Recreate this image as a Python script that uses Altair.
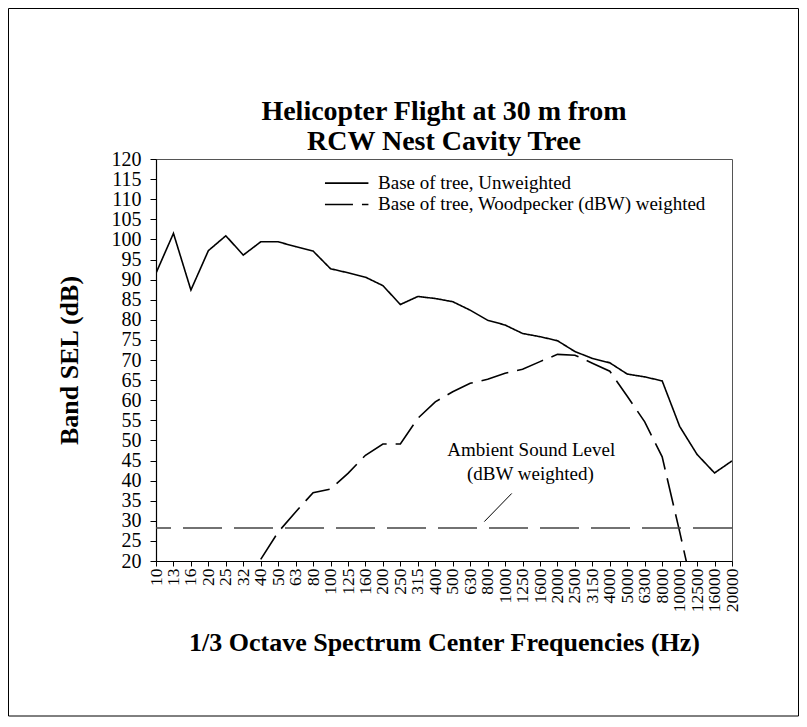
import json
import altair as alt
import pandas as pd

FONT = "Liberation Serif"

freqs = ["10", "13", "16", "20", "25", "32", "40", "50", "63", "80", "100", "125",
         "160", "200", "250", "315", "400", "500", "630", "800", "1000", "1250",
         "1600", "2000", "2500", "3150", "4000", "5000", "6300", "8000", "10000",
         "12500", "16000", "20000"]

unweighted = [91.6, 101.5, 87.4, 97.2, 100.9, 96.1, 99.4, 99.4, 98.2, 97.1, 92.7, 91.7,
              90.6, 88.5, 83.8, 85.8, 85.3, 84.5, 82.4, 79.9, 78.7, 76.6, 75.8, 74.8,
              72.1, 70.4, 69.3, 66.5, 65.8, 64.8, 53.5, 46.5, 41.9, 44.9]

weighted = [None, None, None, None, None, None, 20.4, 27.2, 32.2, 37.0, 37.9, 41.8,
            46.3, 49.1, 49.1, 55.5, 59.6, 62.1, 64.2, 65.2, 66.7, 67.7, 69.6, 71.4,
            71.2, 69.2, 67.2, 61.0, 54.6, 45.9, 27.3, 8.0, None, None]

series_names = ["Base of tree, Unweighted", "Base of tree, Woodpecker (dBW) weighted"]
series_dash = [[1, 0], [28, 9]]

title_lines = ["Helicopter Flight at 30 m from", "RCW Nest Cavity Tree"]
title_x = [16.5, 16.5]
title_y = [131.6, 124.2]

ambient_level = [28.2]
ambient_text = ["Ambient Sound Level", "(dBW weighted)"]
ambient_text_x = [21.5, 21.45]
ambient_text_y = [47.6, 41.6]
pointer_x = [18.81, 20.38]
pointer_y = [29.8, 36.8]

legend_x = [9.68, 12.17]
legend_y = [114.0, 108.7]
legend_label_x = [12.72]

y_ticks = list(range(20, 125, 5))

rows = []
for i, f in enumerate(freqs):
    rows.append({"idx": i, "freq": f, "series": series_names[0], "sel": unweighted[i]})
    if weighted[i] is not None:
        rows.append({"idx": i, "freq": f, "series": series_names[1], "sel": weighted[i]})
df = pd.DataFrame(rows)

x_scale = alt.Scale(domain=[0, len(freqs) - 1], nice=False, zero=False)
y_scale = alt.Scale(domain=[20, 120], nice=False, zero=False)
dash_scale = alt.Scale(domain=series_names, range=series_dash)

x_axis = alt.Axis(
    values=list(range(len(freqs))),
    labelExpr=json.dumps(freqs) + "[datum.value]",
    labelAngle=-90, labelFont=FONT, labelFontSize=17.5, labelColor="black",
    labelPadding=2, labelFlush=False, labelOverlap=False, labelSeparation=0,
    tickColor="black", tickSize=5, domainColor="black", domainWidth=1.2,
    grid=False,
    title="1/3 Octave Spectrum Center Frequencies (Hz)",
    titleFont=FONT, titleFontSize=26, titleFontWeight="bold", titleColor="black",
    titlePadding=18,
)
y_axis = alt.Axis(
    values=y_ticks, labelFont=FONT, labelFontSize=20, labelColor="black",
    labelPadding=9, labelOverlap=False, labelFlush=False, labelSeparation=0,
    tickColor="black", tickSize=6, domainColor="black", domainWidth=1.2,
    grid=False,
    title="Band SEL (dB)", titleFont=FONT, titleFontSize=26, titleFontWeight="bold",
    titleColor="black", titlePadding=29,
)


def qx(field):
    return alt.X(field, scale=x_scale, axis=x_axis)


def qy(field):
    return alt.Y(field, scale=y_scale, axis=y_axis)


lines = alt.Chart(df).mark_line(color="black", strokeWidth=1.6, clip=True).encode(
    x=qx("idx:Q"),
    y=qy("sel:Q"),
    strokeDash=alt.StrokeDash("series:N", scale=dash_scale, legend=None),
)

ambient = alt.Chart(pd.DataFrame({"level": ambient_level})).mark_rule(
    color="#444444", strokeWidth=1.4, strokeDash=[39, 12]
).encode(y=qy("level:Q"))

ann_text = alt.Chart(pd.DataFrame({"t": ambient_text, "x": ambient_text_x, "y": ambient_text_y})).mark_text(
    font=FONT, fontSize=19, color="black", align="center", baseline="middle"
).encode(x=qx("x:Q"), y=qy("y:Q"), text="t:N")

pointer = alt.Chart(pd.DataFrame({"x": [pointer_x[0]], "x2": [pointer_x[1]],
                                  "y": [pointer_y[0]], "y2": [pointer_y[1]]})).mark_rule(
    color="black", strokeWidth=1
).encode(x=qx("x:Q"), x2="x2:Q", y=qy("y:Q"), y2="y2:Q")

leg_df = pd.DataFrame({"series": series_names, "x": [legend_x[0]] * 2, "x2": [legend_x[1]] * 2,
                       "y": legend_y, "lx": legend_label_x * 2})
leg_lines = alt.Chart(leg_df).mark_rule(color="black", strokeWidth=1.6).encode(
    x=qx("x:Q"), x2="x2:Q", y=qy("y:Q"),
    strokeDash=alt.StrokeDash("series:N", scale=dash_scale, legend=None),
)
leg_text = alt.Chart(leg_df).mark_text(
    font=FONT, fontSize=19, color="black", align="left", baseline="middle"
).encode(x=qx("lx:Q"), y=qy("y:Q"), text="series:N")

title_text = alt.Chart(pd.DataFrame({"t": title_lines, "x": title_x, "y": title_y})).mark_text(
    font=FONT, fontSize=28, fontWeight="bold", color="black", align="center", baseline="middle"
).encode(x=qx("x:Q"), y=qy("y:Q"), text="t:N")

frame = alt.Chart(pd.DataFrame({"a": [0]})).mark_rect(
    fill=None, stroke="black", strokeWidth=1
).encode(x=alt.value(-147.5), x2=alt.value(642.5), y=alt.value(-150.5), y2=alt.value(557))

chart = alt.layer(lines, frame, ambient, pointer, ann_text, leg_lines, leg_text, title_text).properties(
    width=576, height=402,
    padding={"left": 148, "top": 151, "right": 67, "bottom": 158},
    autosize=alt.AutoSizeParams(type="none"),
    background="white",
).configure_view(stroke="#555555", strokeWidth=1)

chart.save("out.html", embed_options={"renderer": "svg", "actions": False})
